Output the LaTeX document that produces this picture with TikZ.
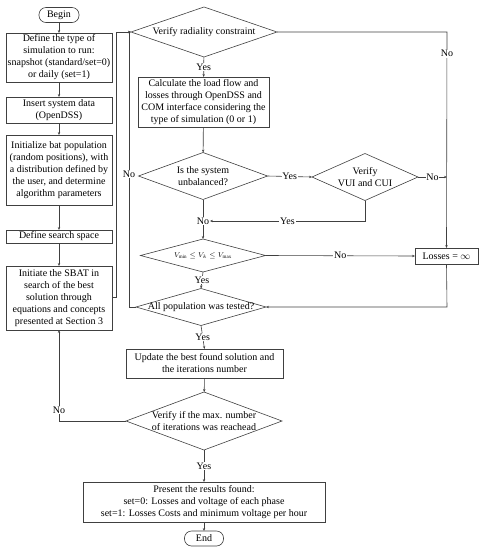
\documentclass[tikz,border=0pt]{standalone}
\usepackage{fontspec}
\setmainfont{Liberation Serif}
\usetikzlibrary{shapes.geometric,arrows.meta}
\begin{document}
\begin{tikzpicture}[x=1pt,y=-1pt,
  font=\fontsize{10}{12}\selectfont,
  every node/.style={outer sep=0pt},
  ln/.style={draw=black!75, line width=0.6pt},
  arr/.style={ln, -{Stealth[length=3pt,width=2.4pt]}},
  box/.style={draw=black!75, line width=0.6pt, rectangle, inner sep=1pt, align=center, minimum width=#1},
  term/.style={draw=black!75, line width=0.6pt, rectangle, rounded corners=7pt, minimum width=40pt, minimum height=15pt, inner sep=0pt},
  dia/.style n args={2}{draw=black!75, line width=0.6pt, diamond, inner sep=0pt, minimum width=#1, minimum height=#2},
  dtext/.style={align=center, inner sep=0pt},
  lbl/.style={fill=white, inner sep=0.8pt}]
\useasboundingbox (0,0) rectangle (483,550);

% left column
\node[term] (begin) at (59,15) {Begin};
\node[box=106pt, minimum height=49pt] (b1) at (59,57.5) {Define the type of\\simulation to run:\\snapshot (standard/set=0)\\or daily (set=1)};
\node[box=106pt, minimum height=26pt] (b2) at (59,110) {Insert system data\\(OpenDSS)};
\node[box=106pt, minimum height=70pt] (b3) at (59,170) {Initialize bat population\\(random positions), with\\a distribution defined by\\the user, and determine\\algorithm parameters};
\node[box=106pt, minimum height=13pt, inner sep=0pt] (b4) at (59,236.5) {Define search space};
\node[box=106pt, minimum height=64pt] (b5) at (59,298) {Initiate the SBAT in\\search of the best\\solution through\\equations and concepts\\presented at Section 3};

% middle column
\node[dia={146pt}{50pt}] (d1) at (204,32) {};
\node[dtext] (d1t) at (d1) {Verify radiality constraint};
\node[box=131pt, minimum height=50pt] (c1) at (203.5,102) {Calculate the load flow and\\losses through OpenDSS and\\COM interface considering the\\type of simulation (0 or 1)};
\node[dia={129pt}{47pt}] (d2) at (203,176) {};
\node[dtext] (d2t) at (d2) {Is the system\\unbalanced?};
\node[dia={106pt}{47pt}] (d3) at (365,177) {};
\node[dtext] (d3t) at (d3) {Verify\\VUI and CUI};
\node[lbl] (jn) at (203,221) {No};
\node[dia={125pt}{33pt}] (d4) at (203,255.5) {};
\node[dtext] (d4t) at (d4) {\fontsize{7}{8}\selectfont $V_{\min}\le V_k\le V_{\max}$};
\node[dia={130pt}{37pt}] (d5) at (201,307) {};
\node[dtext] (d5t) at (d5) {All population was tested?};
\node[box=157pt, minimum height=29pt] (c2) at (204.5,363.5) {Update the best found solution and\\the iterations number};
\node[dia={156pt}{58pt}] (d6) at (204,421) {};
\node[dtext] (d6t) at (d6) {Verify if the max. number\\of iterations was reachead};
\node[box=242pt, minimum height=40pt] (c3) at (204,502) {Present the results found:\\set=0: Losses and voltage of each phase\\set=1: Losses Costs and minimum voltage per hour};
\node[term, minimum width=39pt] (end) at (204,538.5) {End};
\node[box=63pt, minimum height=16pt, inner sep=0pt] (loss) at (446.5,256) {Losses = $\infty$};

\coordinate (sb) at (116,297);
\coordinate (sbt) at (116,32);
\coordinate (nl) at (129,307);
\coordinate (nlt) at (129,32);
\coordinate (rt) at (447,32);
\coordinate (rv) at (447,177);
\coordinate (vb) at (365,221);
\coordinate (lb) at (447,307);
\coordinate (il) at (59,421);

% left column arrows
\draw[arr] (begin) -- (b1);
\draw[arr] (b1) -- (b2);
\draw[arr] (b2) -- (b3);
\draw[arr] (b3) -- (b4);
\draw[arr] (b4) -- (b5);
\draw[arr] (b5.east |- sb) -- (sb) -- (sbt) -- (d1.west);

% main flow
\draw[arr] (d1) -- node[lbl, pos=0.5] {Yes} (c1);
\draw[arr] (c1) -- (d2);
\draw[arr] (d2.east) -- node[lbl] {Yes} (d3.west);
\draw[arr] (d3.east) -- node[lbl] {No} (rv);
\draw[ln] (d2.south) -- (jn);
\draw[arr] (d3.south) -- (vb) -- node[lbl] {Yes} (jn.east);
\draw[arr] (jn) -- (d4.north);
\draw[arr] (d4.east) -- node[lbl] {No} (loss.west);
\draw[arr] (d4.south) -- node[lbl] {Yes} (d5.north);
\draw[arr] (d1.east) -- (rt) -- node[lbl, pos=0.1] {No} (loss.north);
\draw[arr] (loss.south) -- (lb) -- (d5.east);
\draw[arr] (d5.west) -- (nl) -- node[lbl, pos=0.484] {No} (nlt) -- (d1.west);
\draw[arr] (d5.south) -- node[lbl] {Yes} (c2.north);
\draw[arr] (c2) -- (d6);
\draw[arr] (d6.west) -- (il) -- node[lbl, pos=0.12] {No} (b5.south);
\draw[arr] (d6.south) -- node[lbl] {Yes} (c3.north);
\draw[arr] (c3) -- (end);
\end{tikzpicture}
\end{document}
